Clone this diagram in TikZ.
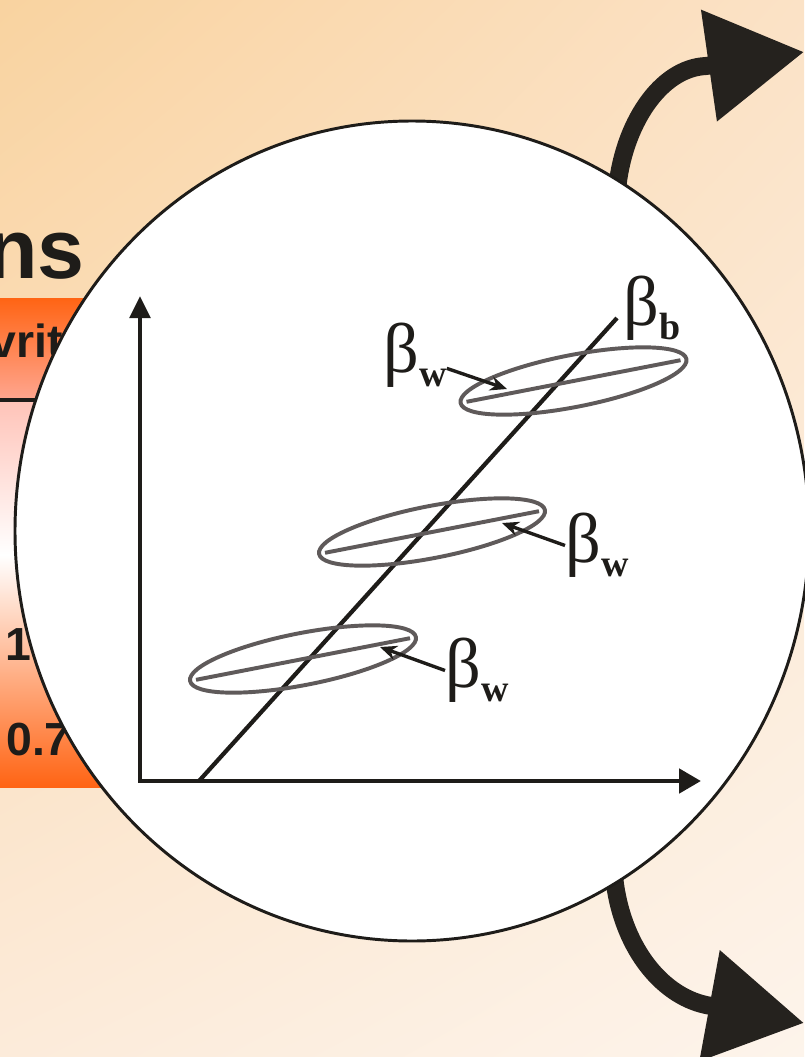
\documentclass[tikz,border=0pt]{standalone}
\usepackage{fontspec}
\setmainfont{Liberation Serif}
\newfontfamily\slidefont{Liberation Sans}
\usetikzlibrary{arrows.meta,shapes.geometric,shadings}

\definecolor{bgUL}{HTML}{F9D3A0}
\definecolor{bgUR}{HTML}{FBE2C6}
\definecolor{bgLL}{HTML}{FCEBDA}
\definecolor{bgLR}{HTML}{FDF4EB}
\definecolor{hdrTop}{HTML}{FF6414}
\definecolor{hdrBot}{HTML}{FFA690}
\definecolor{bodyTop}{HTML}{FFC3B8}
\definecolor{bodyMid}{HTML}{FFB8A6}
\definecolor{bodyBot}{HTML}{FF6414}
\definecolor{inkblack}{HTML}{1E1C19}
\definecolor{arrowink}{HTML}{25221E}
\definecolor{cloudgray}{HTML}{5F5A5A}

\newcommand{\betalab}[1]{{\fontsize{50}{50}\selectfont β}\raisebox{-10pt}{\fontsize{27}{27}\selectfont\bfseries #1}}

\begin{document}
\begin{tikzpicture}[
    x=0.025cm, y=-0.025cm,
    sans/.style      = {inner sep=0pt, text=inkblack, font=\slidefont\bfseries},
    bigarr/.style    = {draw=arrowink, line width=12.8pt,
                        -{Triangle[length=2.4cm,width=2.7cm]}},
    lens/.style      = {draw=inkblack, line width=2.1pt, fill=white},
    axisline/.style  = {draw=inkblack, line width=3.5pt,
                        {Triangle[length=0.55cm,width=0.5cm]}-{Triangle[length=0.55cm,width=0.6cm]}},
    trend/.style     = {draw=inkblack, line width=3pt},
    cloud/.style     = {ellipse, draw=cloudgray, line width=2.8pt, rotate=11,
                        minimum width=5.75cm, minimum height=1.3cm, inner sep=0pt},
    cloudaxis/.style = {draw=cloudgray, line width=2.8pt,
                        shorten <=0.2cm, shorten >=0.2cm},
    lab/.style       = {inner sep=0pt, anchor=south west, text=inkblack},
    ptr/.style       = {draw=inkblack, line width=2.4pt,
                        -{Stealth[length=0.42cm,width=0.36cm]}},
  ]

  \useasboundingbox (0,0) rectangle (804,1057);
  \shade[upper left=bgUL, upper right=bgUR, lower left=bgLL, lower right=bgLR]
    (0,0) rectangle (804,1057);

  % table behind the lens
  \shade[top color=hdrTop, bottom color=hdrBot] (0,298) rectangle (220,400);
  \shade[top color=bodyTop, bottom color=white] (0,400) rectangle (220,555);
  \shade[top color=white, middle color=bodyMid, bottom color=bodyBot] (0,555) rectangle (220,787);
  \draw[draw=inkblack, line width=2.2pt] (0,400) -- (220,400);

  \node[sans, anchor=base east, font=\slidefont\bfseries\fontsize{60}{60}\selectfont] (ttl) at (85,278) {ns};
  \node[sans, anchor=base west, font=\slidefont\bfseries\fontsize{33}{33}\selectfont] (hdr) at (-10,357) {vrit};
  \node[sans, anchor=base west, font=\slidefont\bfseries\fontsize{33}{33}\selectfont] (v1) at (5,660) {1};
  \node[sans, anchor=base west, font=\slidefont\bfseries\fontsize{33}{33}\selectfont] (v2) at (6,755) {0.7};

  % arrows leaving the lens
  \coordinate (a1s) at (617,190);
  \coordinate (a1b) at (706,66);
  \coordinate (a1t) at (804,52);
  \coordinate (a2s) at (614,876);
  \coordinate (a2b) at (706,1005);
  \coordinate (a2t) at (804,1023);
  \draw[bigarr] (a1s) .. controls (623,125) and (660,68) .. (a1b) -- (a1t);
  \draw[bigarr] (a2s) .. controls (621,945) and (660,995) .. (a2b) -- (a2t);

  % the lens
  \draw[lens] (412,531) ellipse (397 and 410);

  % axes and between-line
  \coordinate (O) at (140,781);
  \coordinate (ytop) at (140,296);
  \coordinate (xend) at (701,781);
  \draw[axisline] (ytop) -- (O) -- (xend);
  \coordinate (b0) at (199,781);
  \coordinate (b1) at (617,318);
  \draw[trend] (b0) -- (b1);

  % within-clusters
  \node[cloud] (c1) at (573.5,381) {};
  \node[cloud] (c2) at (432,532) {};
  \node[cloud] (c3) at (303,659) {};
  \draw[cloudaxis] (c1.west) -- (c1.east);
  \draw[cloudaxis] (c2.west) -- (c2.east);
  \draw[cloudaxis] (c3.west) -- (c3.east);

  % labels
  \node[lab] (lw1) at (383,388) {\betalab{w}};
  \node[lab] (lw2) at (565,578) {\betalab{w}};
  \node[lab] (lw3) at (445,703) {\betalab{w}};
  \node[lab] (lb)  at (623,341) {\betalab{b}};

  \coordinate (t1) at (507,389);
  \coordinate (t2) at (502,523);
  \coordinate (t3) at (380,647);
  \draw[ptr] (lw1.-22) -- (t1);
  \draw[ptr] (lw2.west) -- (t2);
  \draw[ptr] (lw3.west) -- (t3);

\end{tikzpicture}
\end{document}
